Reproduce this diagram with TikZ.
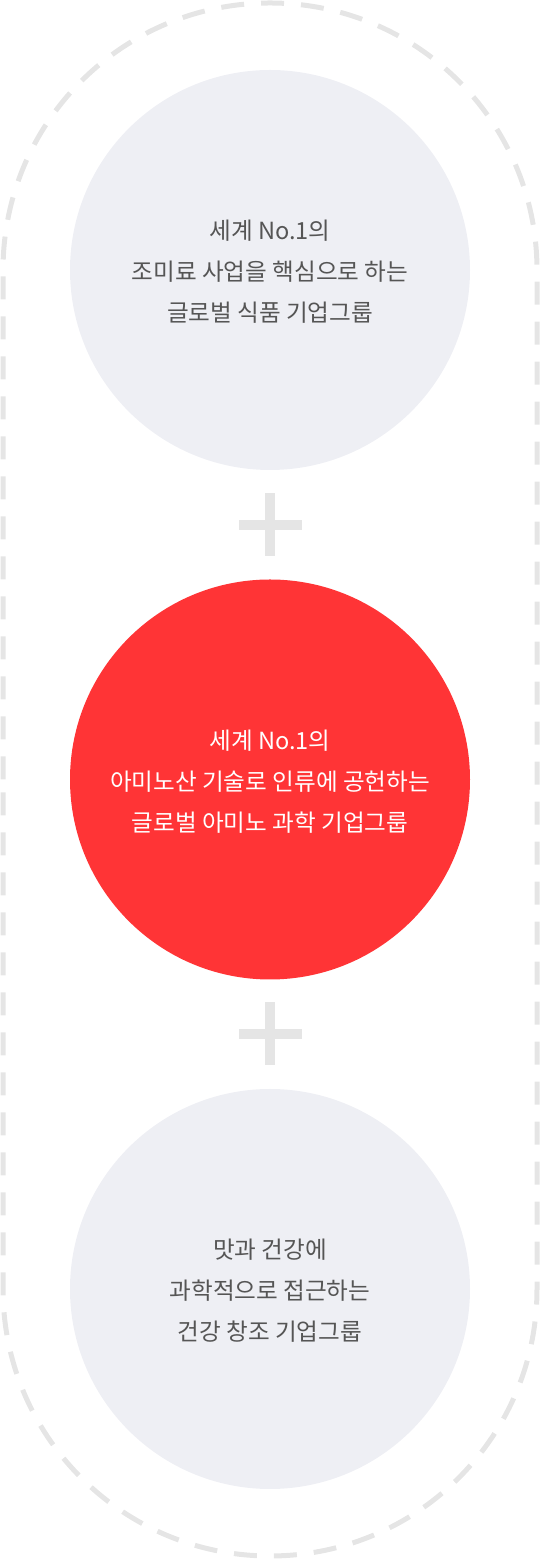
\documentclass[tikz,border=0pt]{standalone}
\usepackage{fontspec}
\newfontfamily\kr{Noto Sans CJK KR}
\usepackage{xcolor}
\usetikzlibrary{positioning}
\definecolor{dashgray}{HTML}{E5E5E5}
\definecolor{ballgray}{HTML}{EEEFF4}
\definecolor{ballred}{HTML}{FF3436}
\definecolor{txtgray}{HTML}{555555}

\begin{document}
\begin{tikzpicture}[x=1pt,y=1pt,
    ball/.style={circle, minimum size=400pt, inner sep=0pt, fill=ballgray},
    balltext/.style={align=center, text=txtgray, font={\kr\fontsize{23.6}{41}\selectfont}},
    plusbar/.style={fill=dashgray, draw=none}]
    \useasboundingbox (0,0) rectangle (540,1559);

    % dashed frame
    \draw[dashgray, line width=5pt, dash pattern=on 23pt off 17pt]
        (3,779.5) -- (3,1289) arc[start angle=180, end angle=0, radius=267]
        -- (537,270) arc[start angle=0, end angle=-180, radius=267] -- cycle;

    \node[ball] at (270,1289) (food) {};
    \node[ball, fill=ballred] at (270,779.5) (amino) {};
    \node[ball] at (270,270) (health) {};

    \node[balltext] at (270,1287) (foodtxt) {세계 No.1의\\조미료 사업을 핵심으로 하는\\글로벌 식품 기업그룹};
    \node[balltext, text=white] at (270,777.5) (aminotxt) {세계 No.1의\\아미노산 기술로 인류에 공헌하는\\글로벌 아미노 과학 기업그룹};
    \node[balltext] at (270,268) (healthtxt) {맛과 건강에\\과학적으로 접근하는\\건강 창조 기업그룹};

    % plus signs
    \foreach \y in {1034,525} {
        \fill[plusbar] (265,\y-31.5) rectangle (275,\y+31.5);
        \fill[plusbar] (239,\y-5) rectangle (302,\y+5);
    }
\end{tikzpicture}
\end{document}
